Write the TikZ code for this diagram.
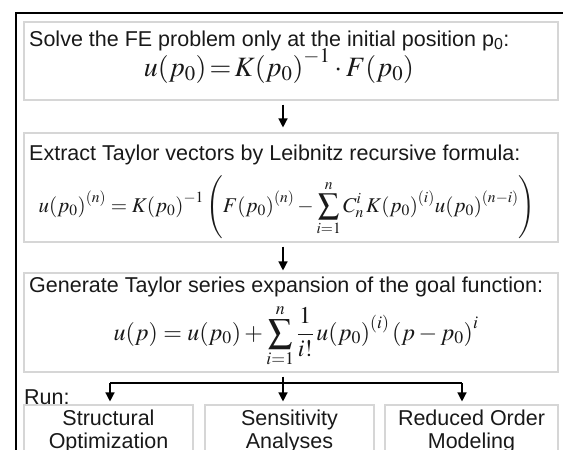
\documentclass[tikz,border=0pt]{standalone}
\usepackage{mathptmx}
\usepackage{fontspec}
\setmainfont{Liberation Sans}
\usetikzlibrary{arrows.meta}
\definecolor{boxgray}{RGB}{214,214,214}
\definecolor{ink}{RGB}{25,25,25}
\newcommand{\pz}{{\left(p_0\right)}}
\begin{document}
\begin{tikzpicture}[x=1pt,y=-1pt,
  box/.style={draw=boxgray, line width=1.1pt, inner sep=0pt},
  title/.style={anchor=base west, inner sep=0pt, text=ink, font=\fontsize{21.5}{26}\selectfont},
  formula/.style={anchor=base, inner sep=0pt, text=ink},
  leaf/.style={align=center, inner sep=0pt, text=ink, font=\fontsize{21.5}{23}\selectfont},
  arr/.style={line width=1.3pt, -{Triangle[length=9pt,width=9pt]}},
  link/.style={line width=1.3pt}]
\useasboundingbox (0,0) rectangle (563,450);
\clip (0,0) rectangle (563,450);
\draw[line width=2.2pt] (16,13) rectangle (640,520);
% boxes
\node[box, minimum width=534pt, minimum height=78pt] (b1) at (291,61) {};
\node[box, minimum width=534pt, minimum height=109pt] (b2) at (291,187.5) {};
\node[box, minimum width=534pt, minimum height=99pt] (b3) at (291,322.5) {};
\node[box, minimum width=169pt, minimum height=65pt] (c1) at (108.5,437.5) {};
\node[box, minimum width=169pt, minimum height=65pt] (c2) at (289.5,437.5) {};
\node[box, minimum width=173pt, minimum height=65pt] (c3) at (471.5,437.5) {};
% texts
\node[title] (t1) at (29,46) {Solve the FE problem only at the initial position p\textsubscript{0}:};
\node[formula, font=\fontsize{28}{30}\selectfont] (f1) at (279,76) {$u\pz\!=\!K\pz^{-1}\cdot F\pz$};
\node[title] (t2) at (29,160) {Extract Taylor vectors by Leibnitz recursive formula:};
\node[formula, font=\fontsize{21}{24}\selectfont] (f2) at (287,212) {$\displaystyle u\pz^{(n)}=K\pz^{-1}\left(F\pz^{(n)}-\sum_{i=1}^{n}C_n^i\,K\pz^{(i)}u\pz^{(n-i)}\right)$};
\node[title] (t3) at (29,292) {Generate Taylor series expansion of the goal function:};
\node[formula, font=\fontsize{24}{26}\selectfont] (f3) at (296,340) {$\displaystyle u(p)=u\pz+\sum_{i=1}^{n}\frac{1}{i!}\,u\pz^{(i)}\left(p-p_0\right)^i$};
\node[title] (run) at (24,404) {Run:};
\node[leaf] (l1) at (108.5,431) {Structural\\Optimization};
\node[leaf] (l2) at (289.5,431) {Sensitivity\\Analyses};
\node[leaf] (l3) at (471.5,431) {Reduced Order\\Modeling};
% connectors
\coordinate (ax) at (283,0);
\coordinate (hl) at (110,383);
\coordinate (hr) at (462,383);
\draw[arr, shorten <=4pt, shorten >=5pt] (b1.south -| ax) -- (b2.north -| ax);
\draw[arr, shorten <=4pt, shorten >=2pt] (b2.south -| ax) -- (b3.north -| ax);
\draw[link] (hl) -- (hr);
\draw[arr, shorten <=4pt, shorten >=3pt] (b3.south -| ax) -- (c2.north -| ax);
\draw[arr, shorten >=3pt] (hl) -- (c1.north -| hl);
\draw[arr, shorten >=3pt] (hr) -- (c3.north -| hr);
\end{tikzpicture}
\end{document}
